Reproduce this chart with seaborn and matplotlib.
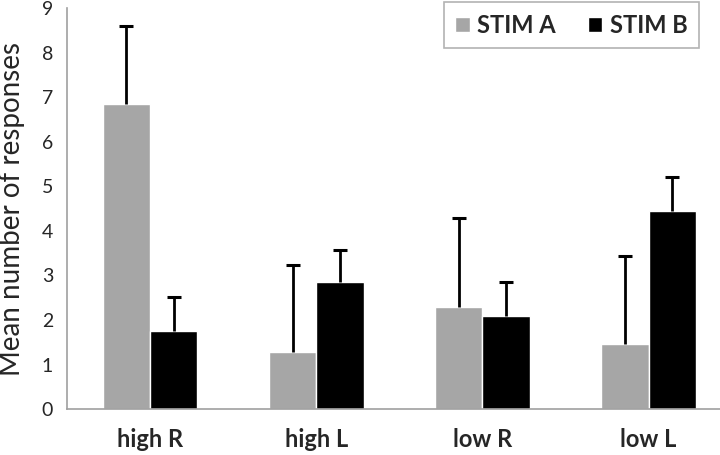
import pandas as pd
import numpy as np
import matplotlib
matplotlib.use('Agg')
import matplotlib.pyplot as plt
import seaborn as sns

# Data
conditions = ['high R', 'high L', 'low R', 'low L']
stims = ['STIM A', 'STIM B']
stim_a_mean = [6.84, 1.27, 2.29, 1.46]
stim_b_mean = [1.76, 2.85, 2.10, 4.45]
stim_a_err = [1.77, 1.97, 2.00, 1.98]
stim_b_err = [0.76, 0.72, 0.75, 0.77]
y_ticks = list(range(0, 10))

df = pd.DataFrame({
    'condition': conditions * 2,
    'stim': [stims[0]] * 4 + [stims[1]] * 4,
    'mean': stim_a_mean + stim_b_mean,
    'err': stim_a_err + stim_b_err,
})

sns.set_style('white')
plt.rcParams['font.family'] = ['Lato', 'DejaVu Sans']

fig = plt.figure(figsize=(7.2, 4.55), dpi=100)
ax = fig.add_axes([0.093, 0.101, 0.907, 0.881])

sns.barplot(data=df, x='condition', y='mean', hue='stim', order=conditions,
            hue_order=stims, palette=['#a6a6a6', '#000000'], width=0.57,
            errorbar=None, saturation=1, ax=ax)

# one-sided (upward) error bars: stem from bar top plus a cap
for cont, s in zip(ax.containers, stims):
    sub = df[df['stim'] == s].set_index('condition').loc[conditions]
    xs = [p.get_x() + p.get_width() / 2 for p in cont.patches]
    tops = sub['mean'] + sub['err']
    ax.vlines(xs, sub['mean'], tops, color='black', linewidth=2)
    ax.scatter(xs, tops, marker='_', s=90, color='black', linewidths=2.2, zorder=3)

ax.set_ylim(0, 9)
ax.set_yticks(y_ticks)
ax.set_xlim(-0.5, 3.43)
ax.set_xlabel('')
ax.set_ylabel('Mean number of responses', fontsize=20, labelpad=12)
ax.tick_params(axis='y', labelsize=14, length=0, pad=10)
ax.tick_params(axis='x', labelsize=17, length=0, pad=14)
for lab in ax.get_xticklabels():
    lab.set_fontweight('bold')

for side in ['top', 'right']:
    ax.spines[side].set_visible(False)
for side in ['left', 'bottom']:
    ax.spines[side].set_color('#a0a0a0')
    ax.spines[side].set_linewidth(1.2)

leg = ax.legend(loc='upper right', bbox_to_anchor=(0.971, 0.996),
                bbox_transform=fig.transFigure, ncol=2, frameon=True,
                fancybox=False, edgecolor='#a0a0a0', borderaxespad=0,
                handlelength=0.6, handleheight=0.6, handletextpad=0.3,
                columnspacing=1.4, borderpad=0.5,
                prop={'size': 17, 'weight': 'bold'})
leg.get_frame().set_linewidth(1.2)

fig.savefig('out.png', dpi=100)
